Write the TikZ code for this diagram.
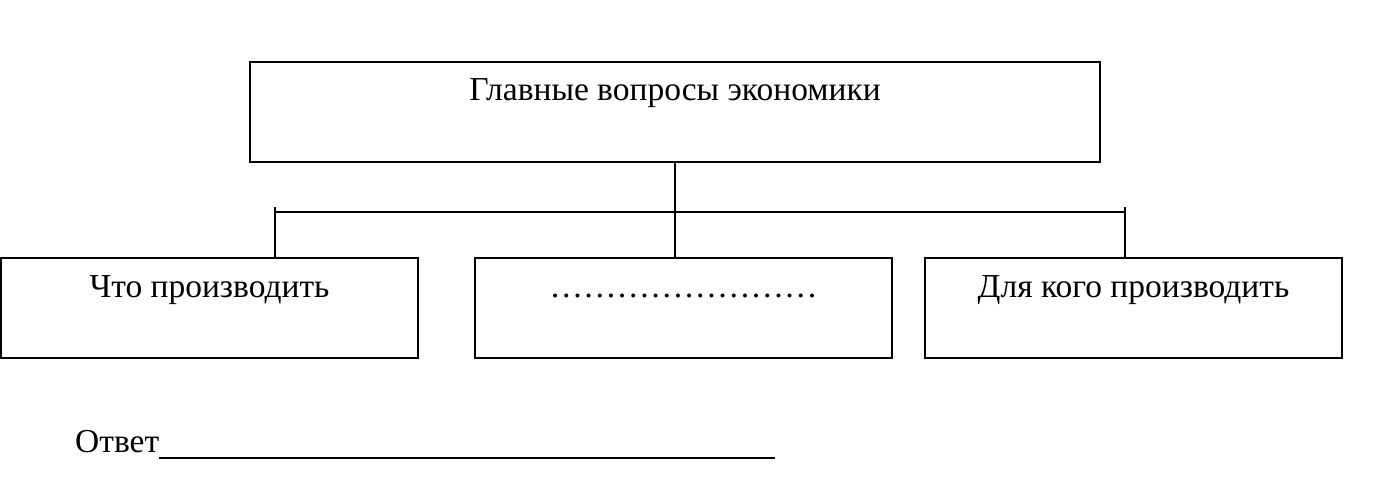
\documentclass[tikz,border=0pt]{standalone}
\usepackage{fontspec}
\setmainfont{Liberation Serif}
\usepackage{tikz}
\usetikzlibrary{positioning}

\begin{document}
\begin{tikzpicture}[
    x=1pt, y=-1pt,
    box/.style={rectangle, draw, line width=1.6pt, minimum width=417pt, minimum height=100pt, inner sep=0pt, outer sep=0pt},
    title/.style={anchor=base, font=\fontsize{33.5}{38}\selectfont, inner sep=0pt},
    link/.style={line width=1.2pt}
]
    \useasboundingbox (0,0) rectangle (1375,500);

    % Top box
    \node[box, minimum width=850pt] (top) at (675,112) {};
    \node[title] (topT) at ([yshift=-39pt]top.north) {Главные вопросы экономики};

    % Questions
    \node[box] (what) at (209.5,308) {};
    \node[box] (how) at (683.5,308) {};
    \node[box] (whom) at (1133.5,308) {};
    \node[title] (whatT) at ([yshift=-39pt]what.north) {Что производить};
    \node[title] (howT) at ([yshift=-39pt]how.north) {……………………};
    \node[title] (whomT) at ([yshift=-39pt]whom.north) {Для кого производить};

    % Bus
    \coordinate (bus) at (675,212);
    \coordinate (busL) at (275,207);
    \coordinate (busR) at (1125,207);

    \draw[link] (top.south) -- (top.south |- how.north);
    \draw[link] (busL |- bus) -- (busR |- bus);
    \draw[link] (busL) -- (busL |- what.north);
    \draw[link] (busR) -- (busR |- whom.north);

    % Answer
    \node[title, anchor=base west] (ans) at (75,452) {Ответ};
    \coordinate (ansEnd) at (775,458);
    \draw[link] (ans.base east |- ansEnd) -- (ansEnd);
\end{tikzpicture}
\end{document}
